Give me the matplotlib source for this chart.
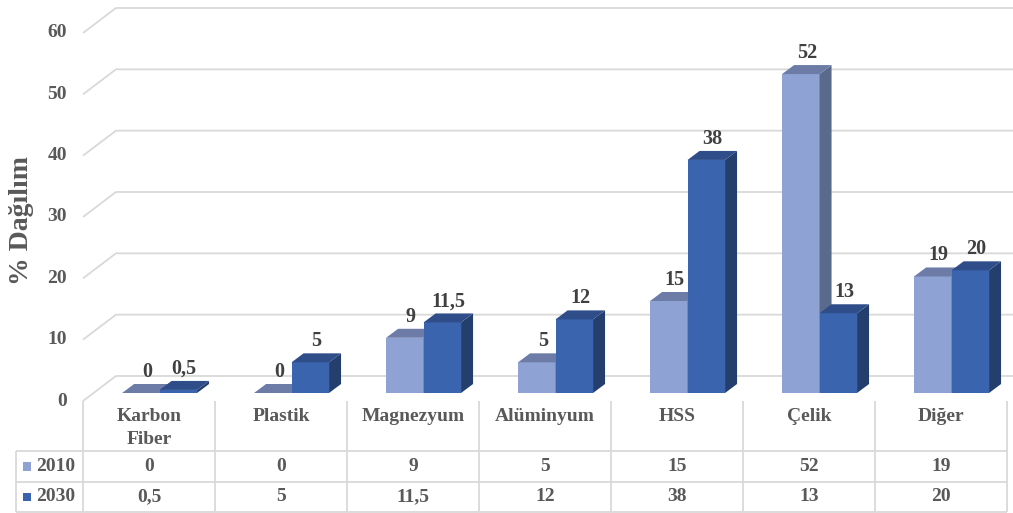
"""
3D-style clustered bars of material shares (2010 vs 2030) with a data table underneath
"""
import matplotlib
matplotlib.use("Agg")
from matplotlib import pyplot as plt
from matplotlib.patches import Polygon, Rectangle

categories = ["Karbon\nFiber", "Plastik", "Magnezyum", "Alüminyum", "HSS", "Çelik", "Diğer"]
series_names = ["2010", "2030"]
values_2010 = [0, 0, 9, 5, 15, 52, 19]
values_2030 = [0.5, 5, 11.5, 12, 38, 13, 20]
y_ticks = [0, 10, 20, 30, 40, 50, 60]
y_label = "% Dağılım"

FONT = "Liberation Serif"
LABEL_COLOR = "#404040"
TICK_COLOR = "#595959"
GRID_COLOR = "#D9D9D9"

# (face, top, side) shades per series
SHADES = [("#8FA2D4", "#6C7CA6", "#5A6A8D"),
          ("#3A64AE", "#2E4D89", "#243F6E")]

W, H = 1013, 513
fig = plt.figure(figsize=(W / 100, H / 100), dpi=100)

# chart axes in category / percent units
x0_px, cat_px = 83, 132
zero_px, unit_px = 401, 368 / 60
ax = fig.add_axes([0, 0, 1, 1])
ax.set_xlim(-0.5 - x0_px / cat_px, -0.5 + (W - x0_px) / cat_px)
ax.set_ylim((zero_px - H) / unit_px, zero_px / unit_px)
ax.axis("off")

wall_dx, wall_dy = 33 / cat_px, 25 / unit_px
bar_dx, bar_dy = 12 / cat_px, 9 / unit_px
off_x, off_y = 0.32 * wall_dx, 0.32 * wall_dy
bar_w = 0.284


def fmt(v):
    return str(int(v)) if float(v).is_integer() else str(v).replace(".", ",")


# back wall gridlines with the slanted floor/side edge
x_end = len(categories) + 1
for v in y_ticks:
    ax.plot([-0.5, -0.5 + wall_dx, x_end], [v, v + wall_dy, v + wall_dy],
            color=GRID_COLOR, lw=1.3, zorder=1, solid_capstyle="butt")
    ax.text(-0.5 - 16 / cat_px, v, str(v), ha="right", va="center",
            fontsize=14, fontweight="bold", color=TICK_COLOR, family=FONT)

ax.text(-0.5 - 62 / cat_px, 29.5, y_label, rotation=90, ha="center", va="center",
        fontsize=20, fontweight="bold", color=TICK_COLOR, family=FONT)


def bar3d(x_left, h, shades):
    face, top, side = shades
    y0 = off_y
    x1 = x_left + bar_w
    ax.add_patch(Polygon([(x_left, y0), (x1, y0), (x1, y0 + h), (x_left, y0 + h)],
                         closed=True, fc=face, ec="none", zorder=3))
    ax.add_patch(Polygon([(x1, y0), (x1 + bar_dx, y0 + bar_dy),
                          (x1 + bar_dx, y0 + h + bar_dy), (x1, y0 + h)],
                         closed=True, fc=side, ec="none", zorder=3))
    ax.add_patch(Polygon([(x_left, y0 + h), (x1, y0 + h),
                          (x1 + bar_dx, y0 + h + bar_dy), (x_left + bar_dx, y0 + h + bar_dy)],
                         closed=True, fc=top, ec="none", zorder=3))
    ax.annotate(fmt(h), (x_left + bar_w / 2 + bar_dx / 2, y0 + h + bar_dy),
                xytext=(0, 1.5), textcoords="offset points", ha="center", va="bottom",
                fontsize=14.5, fontweight="bold", color=LABEL_COLOR, family=FONT,
                zorder=4)


for i in range(len(categories)):
    c = i + off_x
    bar3d(c - bar_w, values_2010[i], SHADES[0])
    bar3d(c, values_2030[i], SHADES[1])

# data table, laid out in pixel units
tab = fig.add_axes([0, 0, 1, 1])
tab.set_xlim(0, W)
tab.set_ylim(H, 0)
tab.axis("off")
tab.patch.set_alpha(0)

col_edges = [x0_px + cat_px * k for k in range(len(categories) + 1)]
row_lines = [450.7, 481.7, 511.7]
table_left = 16
line_kw = dict(color=GRID_COLOR, lw=1.3, solid_capstyle="butt")

for x in col_edges:
    tab.plot([x, x], [zero_px, row_lines[-1]], **line_kw)
tab.plot([table_left, table_left], [row_lines[0], row_lines[-1]], **line_kw)
for y in row_lines:
    tab.plot([table_left, col_edges[-1]], [y, y], **line_kw)

text_kw = dict(fontsize=14, fontweight="bold", color=TICK_COLOR, family=FONT)
for i, name in enumerate(categories):
    tab.text(col_edges[i] + cat_px / 2, 408, name, ha="center", va="top",
             linespacing=1.45, **text_kw)

for r, (name, vals) in enumerate(zip(series_names, [values_2010, values_2030])):
    yc = (row_lines[r] + row_lines[r + 1]) / 2
    tab.add_patch(Rectangle((22.5, yc - 4), 8.5, 8.5, fc=SHADES[r][0], ec="none"))
    tab.text(36, yc, name, ha="left", va="center", **text_kw)
    for i, v in enumerate(vals):
        tab.text(col_edges[i] + cat_px / 2, yc, fmt(v), ha="center", va="center", **text_kw)

fig.savefig("out.png", dpi=100)
